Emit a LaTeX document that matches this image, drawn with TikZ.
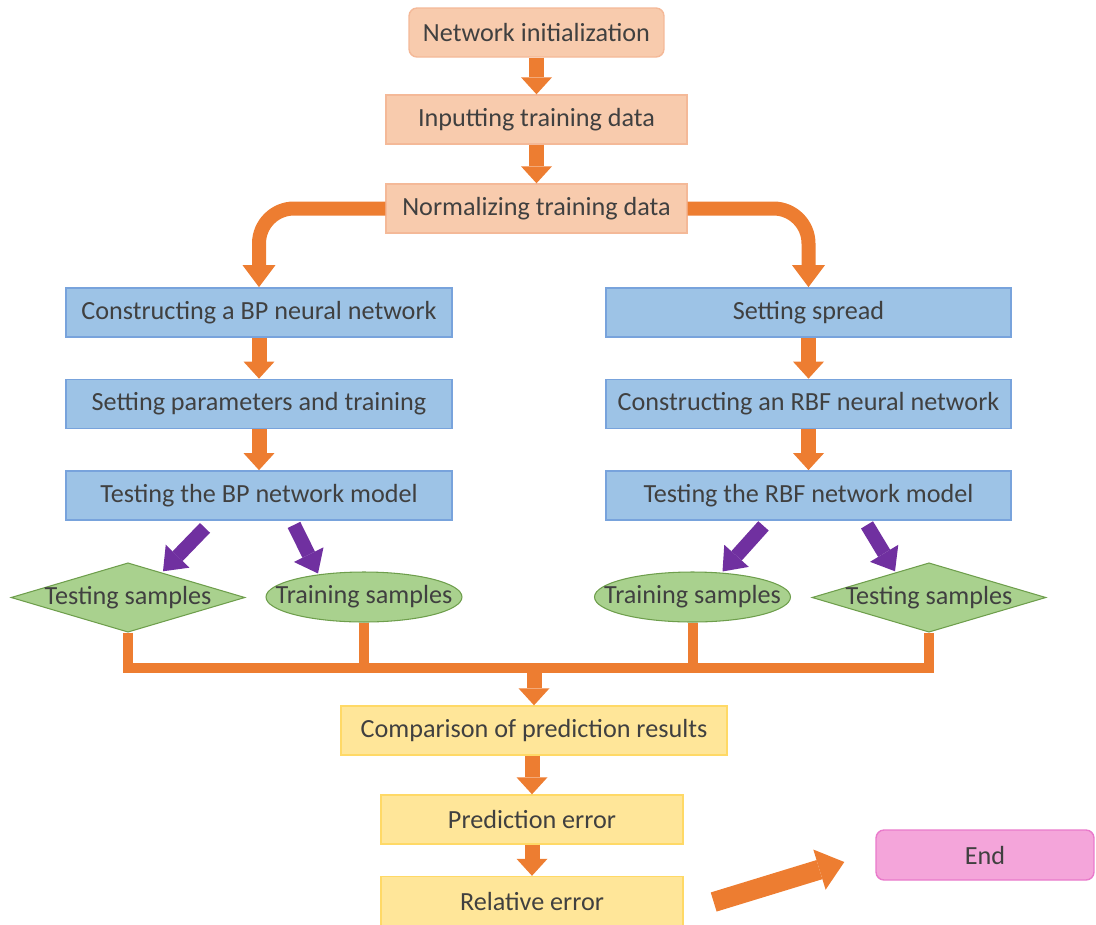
\documentclass[tikz,border=0pt]{standalone}
\usepackage{fontspec}
\setmainfont{Carlito}
\usetikzlibrary{arrows.meta,shapes.geometric,calc}
\definecolor{ink}{HTML}{404040}
\definecolor{peach}{HTML}{F8CBAD}
\definecolor{peachline}{HTML}{F4B998}
\definecolor{bluefill}{HTML}{9DC3E6}
\definecolor{blueline}{HTML}{78A3DC}
\definecolor{greenfill}{HTML}{A9D18E}
\definecolor{greenline}{HTML}{6E9E4C}
\definecolor{yellowfill}{HTML}{FFE699}
\definecolor{yellowline}{HTML}{FFD966}
\definecolor{pinkfill}{HTML}{F4A5DA}
\definecolor{pinkline}{HTML}{E97ACB}
\definecolor{orng}{HTML}{ED7D31}
\definecolor{purp}{HTML}{7030A0}
\begin{document}
\begin{tikzpicture}[x=0.02cm, y=-0.02cm, line join=miter,
  every node/.style={font=\fontsize{14.9}{17}\selectfont, text=ink},
  prep/.style={draw=peachline, fill=peach, line width=0.8pt, minimum width=6.02cm, minimum height=0.98cm},
  netbox/.style={draw=blueline, fill=bluefill, line width=1pt, minimum height=0.98cm},
  resbox/.style={draw=yellowline, fill=yellowfill, line width=0.8pt, minimum width=6.04cm, minimum height=0.98cm},
  dia/.style={diamond, draw=greenline, fill=greenfill, line width=0.6pt, inner sep=-0.6cm, minimum width=4.68cm, minimum height=1.38cm},
  ell/.style={ellipse, draw=greenline, fill=greenfill, line width=0.6pt, inner xsep=-0.8cm, inner ysep=-0.15cm, minimum width=3.92cm, minimum height=1cm},
  flow/.style={draw=orng, line width=0.3cm, -{Triangle[width=0.62cm,length=0.34cm,line width=0pt]}},
  split/.style={draw=orng, line width=0.28cm, rounded corners=0.7cm, -{Triangle[width=0.66cm,length=0.44cm,line width=0pt]}},
  pick/.style={draw=purp, line width=0.28cm, -{Triangle[width=0.66cm,length=0.42cm,line width=0pt]}},
  bus/.style={draw=orng, line width=0.2cm}]
  \useasboundingbox (0,0) rectangle (1096,924);
  % common steps
  \node[prep, minimum width=5.1cm, rounded corners=0.16cm] (init) at (536.5,32.5) {Network initialization};
  \node[prep] (input) at (536.5,119.5) {Inputting training data};
  \node[prep] (norm) at (536.5,208.5) {Normalizing training data};
  % BP branch left, RBF branch right
  \node[netbox, minimum width=7.72cm] (bp1) at (259,312.5) {Constructing a BP neural network};
  \node[netbox, minimum width=7.72cm] (bp2) at (259,404) {Setting parameters and training};
  \node[netbox, minimum width=7.72cm] (bp3) at (259,495.5) {Testing the BP network model};
  \node[netbox, minimum width=8.1cm] (rbf1) at (808.5,312.5) {Setting spread};
  \node[netbox, minimum width=8.1cm] (rbf2) at (808.5,404) {Constructing an RBF neural network};
  \node[netbox, minimum width=8.1cm] (rbf3) at (808.5,495.5) {Testing the RBF network model};
  \node[dia] (testl) at (128,597.5) {Testing samples};
  \node[ell] (trainl) at (364,597) {Training samples};
  \node[ell] (trainr) at (692.5,597) {Training samples};
  \node[dia] (testr) at (929,597.5) {Testing samples};
  \node[resbox, minimum width=7.72cm] (comp) at (534,730.5) {Comparison of prediction results};
  \node[resbox] (pred) at (532,819.5) {Prediction error};
  \node[resbox] (rel) at (532,901) {Relative error};
  \node[draw=pinkline, fill=pinkfill, line width=0.8pt, rounded corners=0.16cm, minimum width=4.36cm, minimum height=1cm] (stop) at (985,855) {End};
  \draw[flow] (init) -- (input); \draw[flow] (input) -- (norm);
  \draw[split] (norm.west) -| (bp1.north); \draw[split] (norm.east) -| (rbf1.north);
  \draw[flow] (bp1) -- (bp2); \draw[flow] (bp2) -- (bp3);
  \draw[flow] (rbf1) -- (rbf2); \draw[flow] (rbf2) -- (rbf3);
  \draw[pick] ($(bp3.south)+(-54,7)$) -- ($(testl.north)+(35,9)$);
  \draw[pick] ($(bp3.south)+(35,4)$) -- ($(trainl.north)+(-46,2)$);
  \draw[pick] ($(rbf3.south)+(-45,5)$) -- ($(trainr.north)+(30,0)$);
  \draw[pick] ($(rbf3.south)+(58.5,4)$) -- ($(testr.north)+(-34,9)$);
  % collecting line under the samples
  \coordinate (bus) at ($(testl.south)+(0,35)$);
  \draw[bus] (testl.south) -- (bus) -| (testr.south);
  \draw[bus] (trainl.south) -- (trainl.south |- bus); \draw[bus] (trainr.south) -- (trainr.south |- bus);
  \draw[flow] (comp.north |- bus) -- (comp.north);
  \draw[flow] (pred.north |- comp.south) -- (pred.north); \draw[flow] (pred) -- (rel);
  \draw[draw=orng, line width=0.4cm, -{Triangle[width=0.84cm,length=0.52cm,line width=0pt]}] ($(rel.east)+(30,1)$) -- ($(stop.west)+(-31,7)$);
\end{tikzpicture}
\end{document}
